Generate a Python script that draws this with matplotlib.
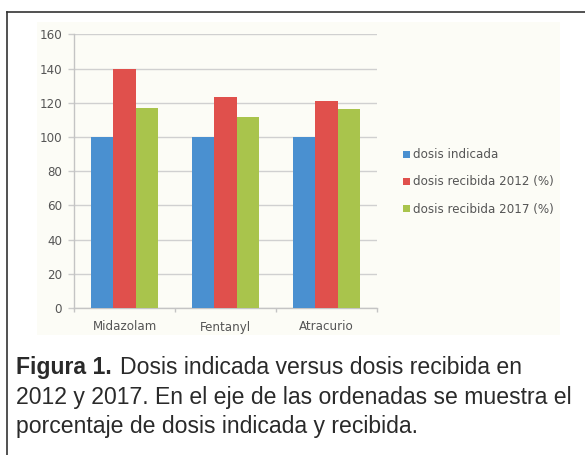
import matplotlib
matplotlib.use('Agg')
import matplotlib.pyplot as plt
import numpy as np
from matplotlib.patches import Rectangle
from matplotlib.lines import Line2D

farmacos = ['Midazolam', 'Fentanyl', 'Atracurio']
dosis_indicada = [100, 100, 100]
recibida_2012 = [140, 123.6, 121.2]
recibida_2017 = [117.1, 111.9, 116.5]

series = [
    ('dosis indicada', dosis_indicada, '#4A90D0'),
    ('dosis recibida 2012 (%)', recibida_2012, '#E0504C'),
    ('dosis recibida 2017 (%)', recibida_2017, '#A9C44C'),
]

W, H = 585, 455
fig = plt.figure(figsize=(W / 100, H / 100), dpi=100)

# fondo del grafico y marco de la figura
fig.patches.append(Rectangle((37 / W, 1 - 335 / H), (560 - 37) / W, (335 - 22) / H,
                             transform=fig.transFigure, facecolor='#FCFCF6',
                             edgecolor='none', zorder=-5))
fig.lines.append(Line2D([6.7 / W, 1], [1 - 11.7 / H] * 2, transform=fig.transFigure,
                        color='#333333', lw=1.2))
fig.lines.append(Line2D([6.7 / W] * 2, [0, 1 - 11.7 / H], transform=fig.transFigure,
                        color='#333333', lw=1.2))

ax = fig.add_axes([74 / W, 1 - 308 / H, (377 - 74) / W, (308 - 34.3) / H])
ax.set_facecolor('none')

x = np.arange(len(farmacos))
width = 0.218
for i, (label, vals, color) in enumerate(series):
    ax.bar(x + (i - 1) * width, vals, width, color=color, label=label, zorder=3)

ax.set_xlim(-0.5, 2.5)
ax.set_ylim(0, 160)
ax.set_yticks(range(0, 161, 20))
ax.set_xticks(x)
ax.set_xticklabels(farmacos)
ax.set_xticks([-0.5, 0.5, 1.5, 2.5], minor=True)

ax.grid(axis='y', color='#D0D0D0', lw=1.0, zorder=0)
for s in ['top', 'right']:
    ax.spines[s].set_visible(False)
for s in ['left', 'bottom']:
    ax.spines[s].set_color('#C4C4C4')
    ax.spines[s].set_linewidth(1.0)

ax.tick_params(axis='y', length=4.3, width=1.0, color='#CCCCCC', pad=4.3,
               labelsize=8.6, labelcolor='#555555')
ax.tick_params(axis='x', which='major', length=0, pad=9, labelsize=8.6,
               labelcolor='#555555')
ax.tick_params(axis='x', which='minor', length=3, width=1.0, color='#C4C4C4')

fig.legend(loc='center left', bbox_to_anchor=(403 / W, 1 - 182 / H),
           frameon=False, fontsize=8.6, handlelength=0.55, handleheight=0.55,
           handletextpad=0.3, labelspacing=1.18, borderpad=0, borderaxespad=0,
           labelcolor='#555555')

# pie de figura
cap = dict(family='Liberation Sans', fontsize=16.6, color='#2A2A2A', va='baseline')
x0 = 16 / W
t = fig.text(x0, 1 - 374 / H, 'Figura 1.', fontweight='bold', **cap)
fig.canvas.draw()
bb = t.get_window_extent(fig.canvas.get_renderer())
fig.text(bb.x1 / W + 8 / W, 1 - 374 / H, 'Dosis indicada versus dosis recibida en', **cap)
fig.text(x0, 1 - 404 / H, '2012 y 2017. En el eje de las ordenadas se muestra el', **cap)
fig.text(x0, 1 - 433 / H, 'porcentaje de dosis indicada y recibida.', **cap)

fig.savefig('out.png', dpi=100)
